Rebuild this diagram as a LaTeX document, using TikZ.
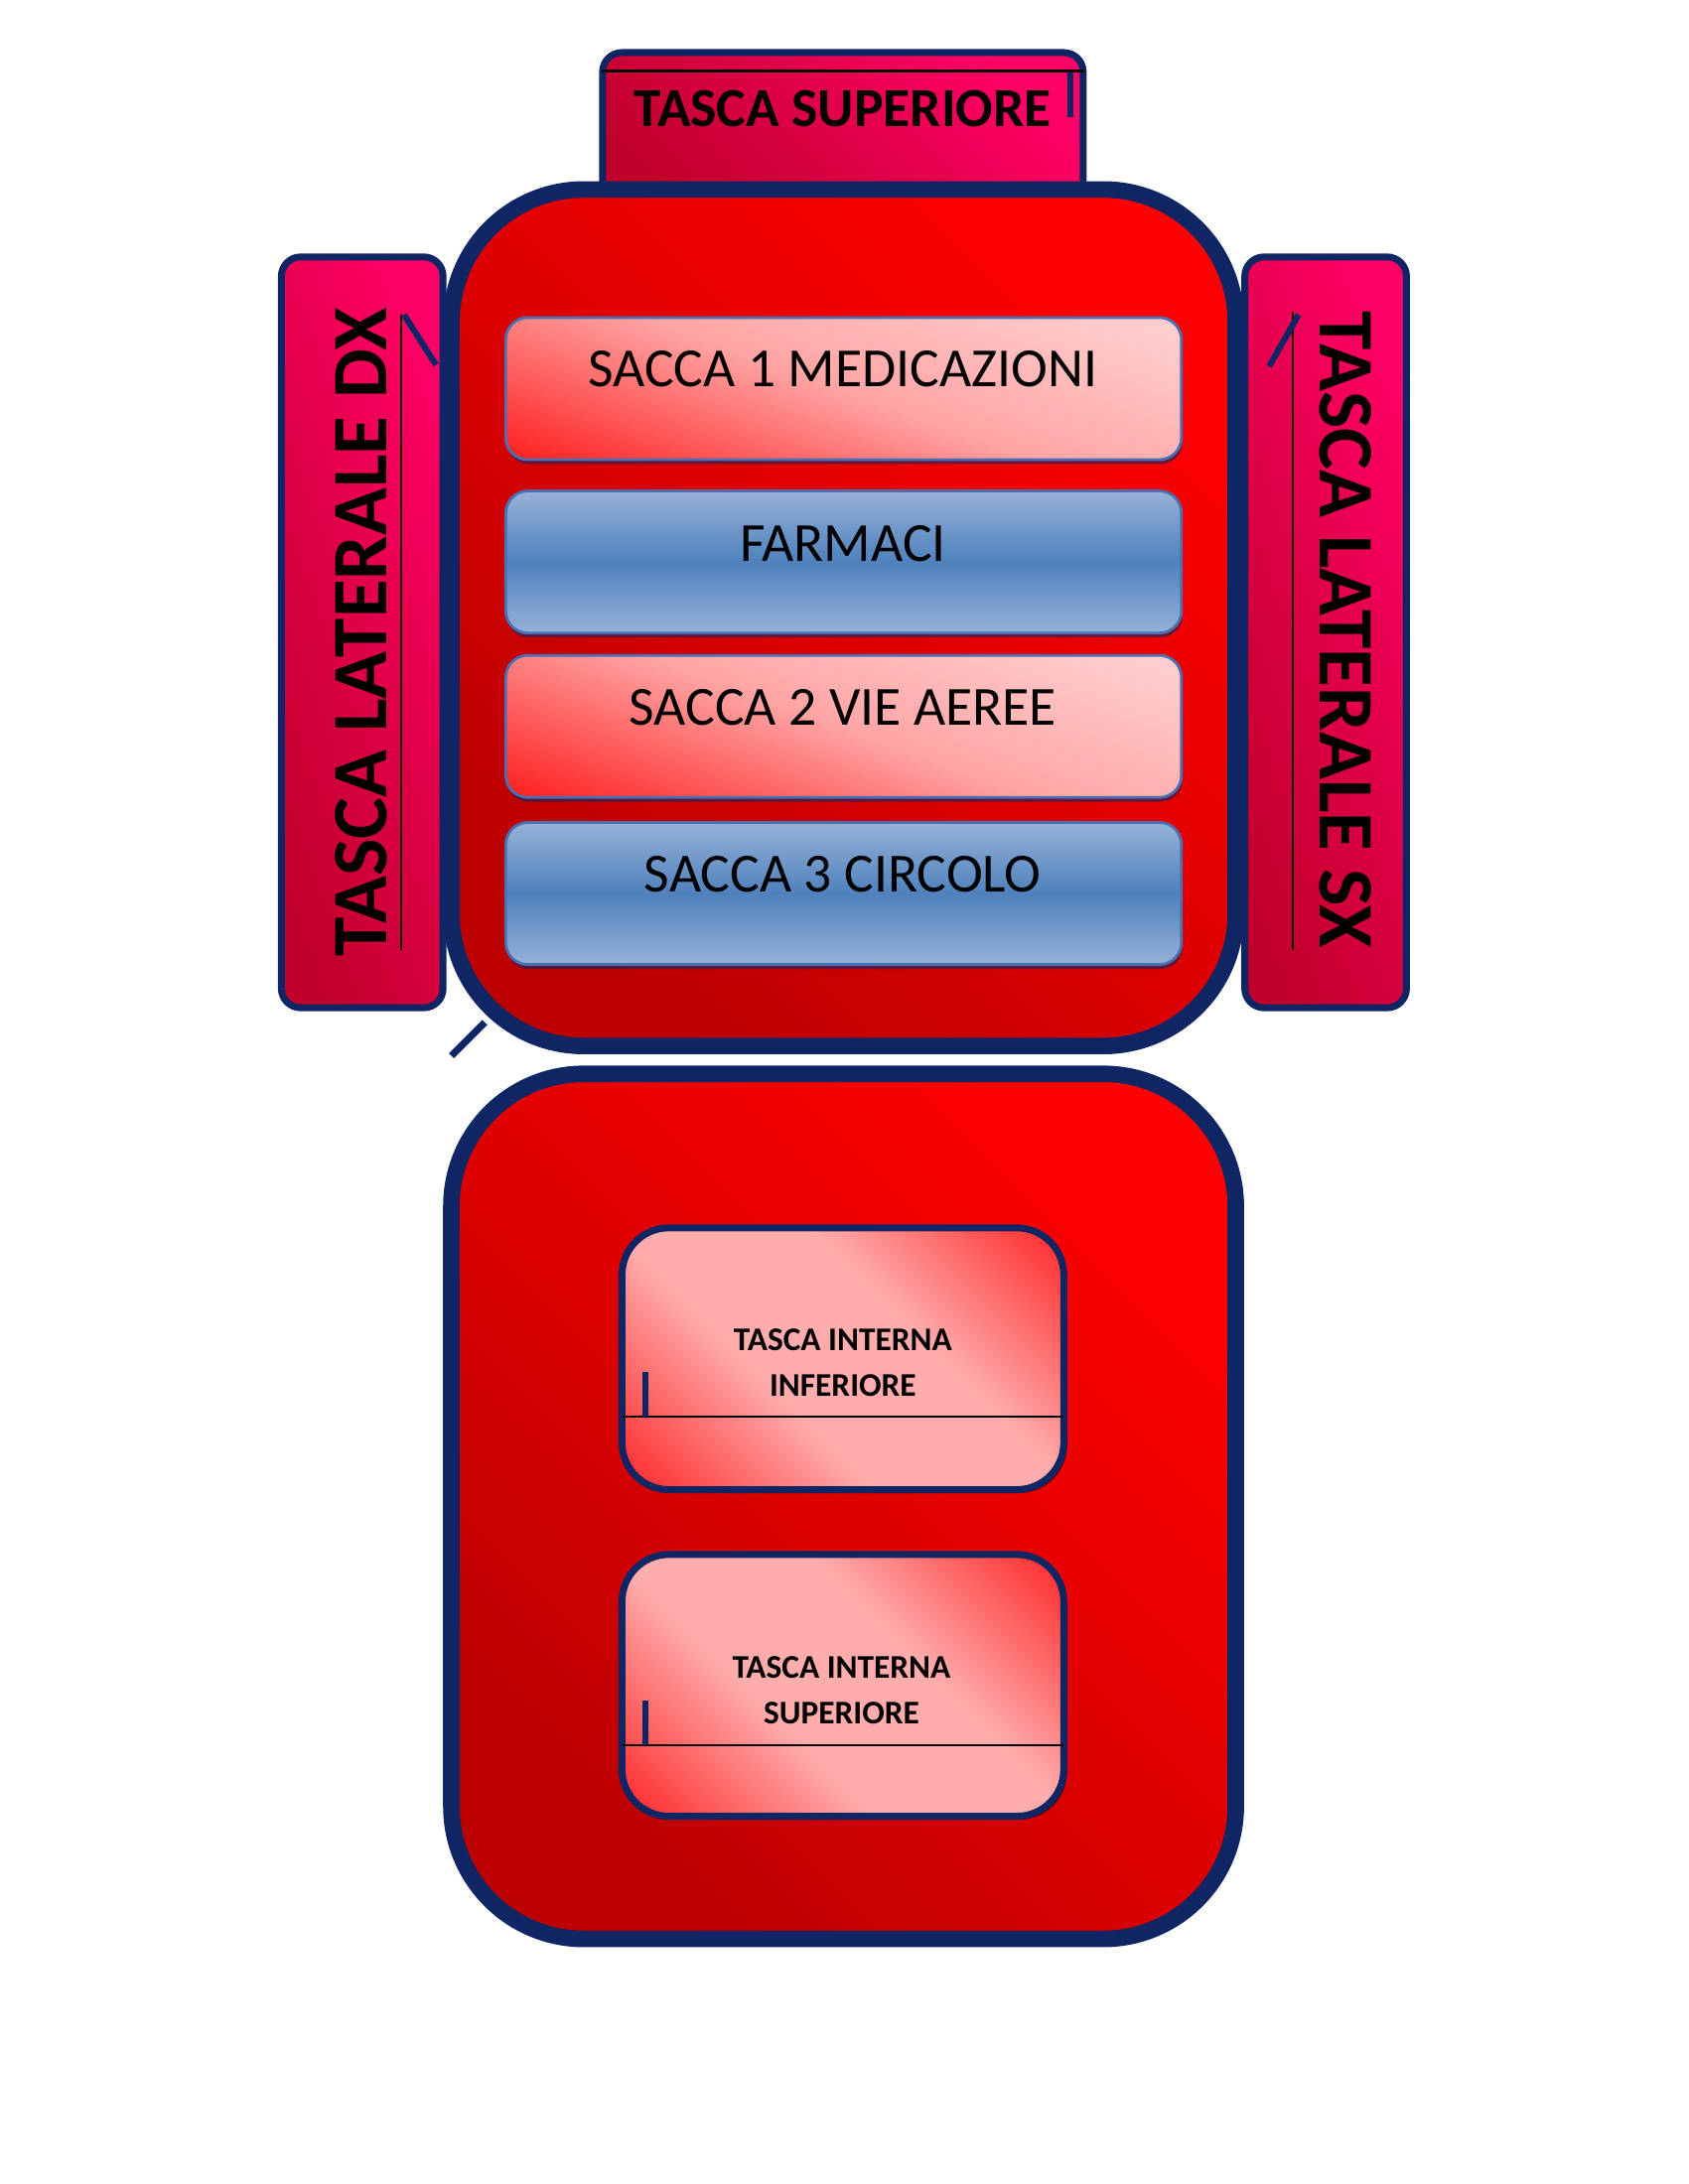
\documentclass[tikz,border=0pt]{standalone}
\usepackage{fontspec}
\setmainfont{Carlito}
\usepackage{tikz}
\usetikzlibrary{shapes,arrows,positioning,shadows}
\definecolor{navy}{RGB}{16,38,100}
\definecolor{bagdark}{RGB}{188,0,0}
\definecolor{bagred}{RGB}{255,0,0}
\definecolor{pocketdark}{RGB}{192,0,42}
\definecolor{pocketpink}{RGB}{255,0,102}
\definecolor{pinklight}{RGB}{255,205,205}
\definecolor{pinkmid}{RGB}{255,165,165}
\definecolor{redlight}{RGB}{255,30,30}
\definecolor{bluelight}{RGB}{150,178,216}
\definecolor{bluemid}{RGB}{79,129,189}
\definecolor{blueedge}{RGB}{72,112,178}
\definecolor{rosa}{RGB}{255,172,172}
\definecolor{rosso}{RGB}{255,35,35}
\pgfdeclareverticalshading{sacred}{100bp}{color(0bp)=(redlight); color(18bp)=(redlight); color(50bp)=(pinkmid); color(78bp)=(pinklight); color(100bp)=(pinklight)}
\pgfdeclareverticalshading{interna}{100bp}{color(0bp)=(rosso); color(14bp)=(rosso); color(40bp)=(rosa); color(60bp)=(rosa); color(86bp)=(rosso); color(100bp)=(rosso)}
\tikzstyle{body} = [draw=navy, line width=6pt, rounded corners=48pt, inner sep=0pt, top color=bagred, bottom color=bagdark, shading angle=-45, minimum width=284.3pt]
\tikzstyle{pocket} = [draw=navy, line width=2.5pt, rounded corners=7pt, inner sep=0pt, top color=pocketpink, bottom color=pocketdark, shading angle=-45]
\tikzstyle{redsac} = [draw=blueedge, line width=1pt, rounded corners=8pt, inner sep=0pt, minimum width=244.9pt, minimum height=51.5pt, drop shadow={shadow xshift=0.4pt, shadow yshift=-1.6pt, fill=navy, opacity=0.6}, shade, shading=sacred, shading angle=-20]
\tikzstyle{bluesac} = [draw=blueedge, line width=1pt, rounded corners=8pt, inner sep=0pt, minimum width=244.9pt, minimum height=51.5pt, drop shadow={shadow xshift=0.4pt, shadow yshift=-1.6pt, fill=navy, opacity=0.6}, top color=bluelight, bottom color=bluelight, middle color=bluemid, shading angle=0]
\tikzstyle{inner} = [draw=navy, line width=2.5pt, rounded corners=17pt, inner sep=0pt, minimum width=160.1pt, minimum height=94.9pt, drop shadow={shadow xshift=1.2pt, shadow yshift=-1.2pt, fill=black, opacity=0.5}, shade, shading=interna, shading angle=-45]
\tikzstyle{sactext} = [font=\fontsize{20}{24}\selectfont, inner sep=0pt]
\tikzstyle{bigtext} = [font=\fontsize{28.5}{32}\selectfont\bfseries, inner sep=0pt]
\tikzstyle{innertext} = [font=\fontsize{12}{16.7}\selectfont\bfseries, align=center, inner sep=0pt]
\tikzstyle{zip} = [draw=black, line width=0.9pt]
\tikzstyle{tab} = [draw=navy, line width=2.2pt]

\begin{document}
\begin{tikzpicture}[x=0.50495pt, y=-0.50495pt]
			\useasboundingbox (0,0) rectangle (1212,1568);
			\path [tab, line width=2.6pt] (324,758) -- (348,734);
			
			\node [pocket, minimum width=174.2pt, minimum height=61.6pt] (ts) at (605,98.75) {};
			\node [pocket, shading angle=-70, minimum width=58.6pt, minimum height=272.2pt] (dx) at (260,454) {};
			\node [pocket, shading angle=-70, minimum width=58.6pt, minimum height=272.2pt] (sx) at (951.5,454) {};
			\path [zip, line width=0.8pt] (432,51) -- (778,51);
			\path [tab] (768,52) -- (768,84);
			\path [zip] (288,226) -- (288,682);
			\path [tab] (290,226) -- (313,262);
			\path [zip] (928,224) -- (928,682);
			\path [tab] (932,226) -- (911,263);
			\node [bigtext, font=\fontsize{20}{23}\selectfont\bfseries] (tst) at (605,78) {TASCA SUPERIORE};
			\node [bigtext, rotate=90] (dxt) at (259,454) {TASCA LATERALE DX};
			\node [bigtext, rotate=-90] (sxt) at (966,452) {TASCA LATERALE SX};
			
			\node [body, minimum height=310.5pt] (up) at (605.5,443.5) {};
			\node [body, minimum height=313.6pt] (low) at (605.5,1081.5) {};
			
			\node [redsac] (s1) at (605.5,279) {};
			\node [bluesac] (fa) at (605.5,403.5) {};
			\node [redsac] (s2) at (605.5,521.5) {};
			\node [bluesac] (s3) at (605.5,641.5) {};
			\node [sactext] (s1t) at (605,265) {SACCA 1 MEDICAZIONI};
			\node [sactext] (fat) at (605,390) {FARMACI};
			\node [sactext] (s2t) at (605,508) {SACCA 2 VIE AEREE};
			\node [sactext] (s3t) at (605,628) {SACCA 3 CIRCOLO};
			
			\node [inner] (ti) at (605,975.5) {};
			\node [inner] (tsu) at (605,1210) {};
			\path [zip, line width=0.8pt] (447,1017) -- (763,1017);
			\path [tab] (463,985) -- (463,1017);
			\path [zip, line width=0.8pt] (447,1253) -- (763,1253);
			\path [tab] (463,1221) -- (463,1253);
			\node [innertext] (tit) at (605,978.5) {TASCA INTERNA\\INFERIORE};
			\node [innertext] (tsut) at (604,1213.5) {TASCA INTERNA\\SUPERIORE};
		\end{tikzpicture}
\end{document}
